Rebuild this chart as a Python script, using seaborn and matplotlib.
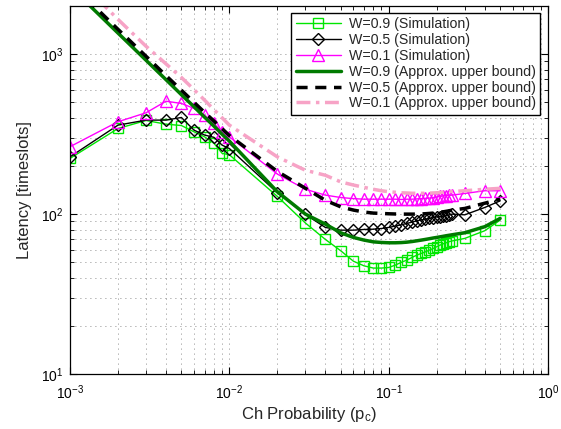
import matplotlib
matplotlib.use("Agg")
import matplotlib.pyplot as plt
import numpy as np
import pandas as pd
import seaborn as sns
from matplotlib.ticker import LogLocator, NullFormatter
from matplotlib.lines import Line2D

# ---------------- data ----------------
p_c = [0.001, 0.002, 0.003, 0.004, 0.005, 0.006, 0.007, 0.008, 0.009, 0.01,
       0.02, 0.03, 0.04, 0.05, 0.06, 0.07, 0.08, 0.09,
       0.10, 0.11, 0.12, 0.13, 0.14, 0.15, 0.16, 0.17, 0.18, 0.19, 0.20,
       0.21, 0.22, 0.23, 0.24, 0.25, 0.3, 0.4, 0.5]

sim_w09 = [223, 343, 385, 365, 358, 327, 304, 277, 240, 235,
           129, 88, 69.5, 59, 50.8, 47.5, 46, 46,
           46.4, 48, 50, 51.6, 53.6, 55.4, 56.8, 58.1, 59.6, 61, 62.5,
           64, 65.3, 66.3, 67.3, 68, 70.5, 78.7, 91.7]

sim_w05 = [228, 360, 387, 387, 402, 335, 312, 302, 270, 257,
           136, 99.5, 82.6, 79.4, 79.4, 80.2, 80.5, 81.3,
           82.6, 84.2, 85.8, 87.5, 89.1, 90.8, 92, 93, 94, 95, 96,
           96.5, 97, 98, 99, 100, 99, 110, 121]

sim_w01 = [264, 378, 430, 508, 492, 458, 416, 369, 327, 304,
           178, 143, 131.5, 127, 125, 124, 124, 124,
           124, 124, 123.5, 124, 124, 124.5, 125, 125.5, 126, 127, 128,
           129, 130, 130.5, 131, 131.5, 134.6, 140, 140]

bnd_w09 = [2650, 1355, 916, 693, 558, 469, 403, 355, 316, 286,
           138, 100, 86.6, 76.4, 71.5, 68.8, 67.1, 66.5,
           66.2, 66.2, 66.4, 66.8, 67.4, 68.1, 68.8, 69.5, 70.2, 70.9, 71.5,
           72.1, 72.7, 73.3, 73.8, 74.3, 76.5, 83.4, 94]

bnd_w05 = [2800, 1430, 970, 735, 595, 500, 432, 382, 342, 310,
           185, 145, 122, 111, 106, 103, 101.5, 101,
           100.5, 100.2, 100, 100, 100, 100, 100.3, 100.6, 101, 101.5, 102,
           102.7, 103.4, 104.2, 105, 106, 108.5, 117, 124]

bnd_w01 = [3300, 1650, 1120, 870, 715, 600, 515, 450, 400, 360,
           228, 188, 175, 159, 152, 147, 143, 140,
           138, 137, 136, 135.5, 135, 135, 135, 135, 135.3, 135.6, 136,
           136.5, 137, 137.5, 138, 138.5, 140, 143, 145]

labels = ["W=0.9 (Simulation)", "W=0.5 (Simulation)", "W=0.1 (Simulation)",
          "W=0.9 (Approx. upper bound)", "W=0.5 (Approx. upper bound)",
          "W=0.1 (Approx. upper bound)"]

# ---------------- style ----------------
sns.set_style("ticks")
plt.rcParams["font.family"] = ["Liberation Sans", "DejaVu Sans"]
plt.rcParams["mathtext.fontset"] = "custom"
plt.rcParams["mathtext.rm"] = "Liberation Sans"
plt.rcParams["mathtext.it"] = "Liberation Sans:italic"
plt.rcParams["mathtext.bf"] = "Liberation Sans:bold"

fig, ax = plt.subplots(figsize=(5.61, 4.29), dpi=100)
fig.subplots_adjust(left=0.1248, right=0.977, bottom=0.128, top=0.986)

GREEN = "#00e600"
MAG = "#ff00ff"
DKGREEN = "#007a00"
PINK = "#f7a3c6"

handles = []
sim_specs = [(sim_w09, GREEN, "s", 6.5), (sim_w05, "black", "D", 6.5), (sim_w01, MAG, "^", 8.5)]
for (ys, col, mk, ms), lab in zip(sim_specs, labels[:3]):
    sns.lineplot(x=p_c, y=ys, ax=ax, color=col, lw=1.0, marker=mk, markersize=ms,
                 markerfacecolor="none", markeredgecolor=col, markeredgewidth=1.0,
                 label=lab, legend=False)
    handles.append(Line2D([], [], color=col, lw=1.0, marker=mk, markersize=ms,
                          markerfacecolor="none", markeredgecolor=col,
                          markeredgewidth=1.0, label=lab))

bnd_specs = [(bnd_w09, DKGREEN, "-"), (bnd_w05, "black", (0, (3.2, 2.2))),
             (bnd_w01, PINK, (0, (4, 1.6, 1, 1.6)))]
for (ys, col, ls), lab in zip(bnd_specs, labels[3:]):
    sns.lineplot(x=p_c, y=ys, ax=ax, color=col, lw=2.5, linestyle=ls,
                 label=lab, legend=False)
    handles.append(Line2D([], [], color=col, lw=2.5, linestyle=ls, label=lab))

ax.set_xscale("log")
ax.set_yscale("log")
ax.set_xlim(1e-3, 1e0)
ax.set_ylim(10, 2000)

ax.xaxis.set_major_locator(LogLocator(base=10, numticks=10))
ax.xaxis.set_minor_locator(LogLocator(base=10, subs=np.arange(2, 10), numticks=20))
ax.yaxis.set_major_locator(LogLocator(base=10, numticks=10))
ax.yaxis.set_minor_locator(LogLocator(base=10, subs=np.arange(2, 10), numticks=20))
ax.xaxis.set_minor_formatter(NullFormatter())
ax.yaxis.set_minor_formatter(NullFormatter())

ax.grid(True, which="both", color="black", linestyle=(0, (1, 5)), lw=0.6, alpha=0.6)
ax.tick_params(which="both", direction="in", top=True, right=True, labelsize=10,
               colors="black")
ax.tick_params(which="major", length=5, width=0.8)
ax.tick_params(which="minor", length=3, width=0.6)
ax.tick_params(axis="x", which="major", pad=7)
ax.tick_params(axis="y", which="major", pad=5)
for sp in ax.spines.values():
    sp.set_visible(True)
    sp.set_color("black")
    sp.set_linewidth(0.9)

ax.set_xlabel(r"Ch Probability (p$_\mathregular{c}$)", fontsize=12, labelpad=2)
ax.set_ylabel("Latency [timeslots]", fontsize=12, labelpad=6)

leg = ax.legend(handles=handles, loc="upper right", bbox_to_anchor=(0.983, 0.981),
                borderaxespad=0, fontsize=10.2, frameon=True, fancybox=False,
                framealpha=1, edgecolor="black", handlelength=3.2,
                handletextpad=0.55, labelspacing=0.13, borderpad=0.3, numpoints=1)
leg.get_frame().set_linewidth(1.0)

fig.savefig("out.png", dpi=100)
